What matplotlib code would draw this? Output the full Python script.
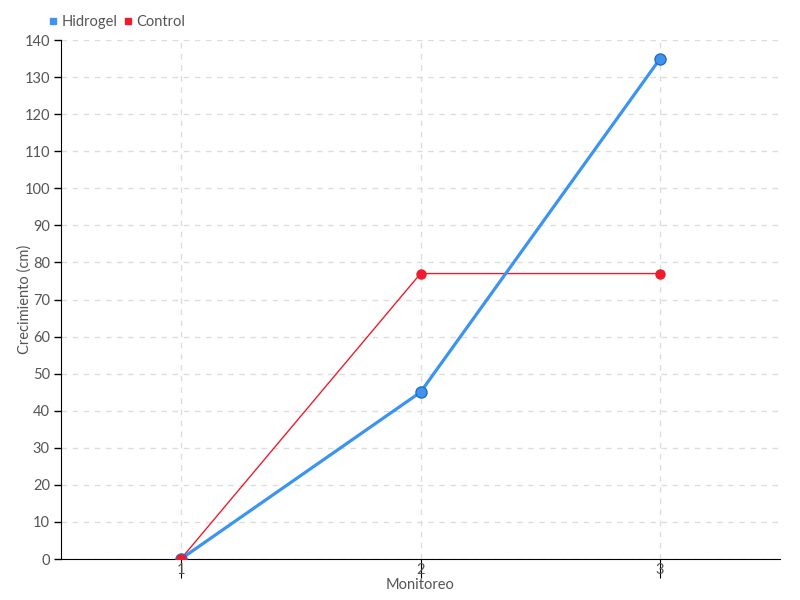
import matplotlib
matplotlib.use("Agg")
import matplotlib.pyplot as plt
from matplotlib.lines import Line2D

plt.rcParams['font.family'] = ['Lato', 'DejaVu Sans']

monitoreo = [1, 2, 3]
hidrogel = [0, 45, 135]
control = [0, 77, 77]
x_labels = ["1", "2", "3"]

blue = "#3d94f0"
red = "#ee1c2e"
text_color = "#555555"

fig = plt.figure(figsize=(8, 6), dpi=100)
ax = fig.add_axes([0.07625, 0.0683, 0.89875, 0.865])

ax.plot(monitoreo, control, color=red, lw=1, zorder=3,
        marker="o", ms=6.5, mfc=red, mec=red)
ax.plot(monitoreo, hidrogel, color=blue, lw=2.3, zorder=4,
        marker="o", ms=8, mfc=blue, mec="#2a6bbf", mew=1)
# control point at origin drawn on top
ax.plot(monitoreo[:1], control[:1], color=red, ls="none", zorder=5,
        marker="o", ms=6.5, mfc=red, mec=red)

ax.set_xlim(0.5, 3.5)
ax.set_ylim(0, 140)
ax.set_xticks(monitoreo)
ax.set_xticklabels(x_labels)
ax.set_yticks(range(0, 141, 10))

ax.grid(True, color="#dddddd", ls=(0, (4, 4)), lw=1)
ax.set_axisbelow(True)

for s in ["top", "right"]:
    ax.spines[s].set_visible(False)
ax.spines["left"].set_color("black")
ax.spines["bottom"].set_color("black")

ax.tick_params(axis="x", direction="out", length=14, width=0.8, pad=-11,
               labelsize=10.5, labelcolor=text_color)
ax.tick_params(axis="y", length=5, width=1, pad=3,
               labelsize=10.5, labelcolor=text_color)

ax.set_xlabel("Monitoreo", fontsize=10.5, color=text_color, labelpad=0)
ax.set_ylabel("Crecimiento (cm)", fontsize=10.5, color=text_color)
ax.yaxis.set_label_coords(-0.041, 0.5)

handles = [
    Line2D([], [], ls="none", marker="s", ms=4, color=blue),
    Line2D([], [], ls="none", marker="s", ms=4, color=red),
]
leg = fig.legend(handles, ["Hidrogel", "Control"], loc="center left",
                 bbox_to_anchor=(0.055, 0.963), ncol=2, frameon=False,
                 handlelength=0.5, handletextpad=0.3, columnspacing=0.5,
                 fontsize=10.5, borderaxespad=0)
for t in leg.get_texts():
    t.set_color(text_color)

fig.savefig("out.png", dpi=100)
